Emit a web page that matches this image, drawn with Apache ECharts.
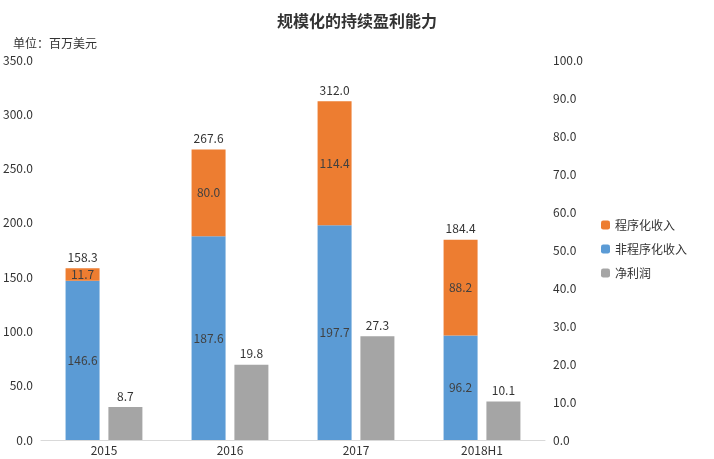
<!DOCTYPE html>
<html><head><meta charset="utf-8">
<script src="https://cdn.jsdelivr.net/npm/echarts@6/dist/echarts.min.js"></script>
<style>html,body{margin:0;padding:0;background:#fff}#c{width:714px;height:459px}</style>
</head><body><div id="c"></div>
<script>
var categories = ['2015','2016','2017','2018H1'];
var nonProgrammatic = [146.6,187.6,197.7,96.2];
var programmatic = [11.7,80.0,114.4,88.2];
var totals = [158.3,267.6,312.0,184.4];
var netProfit = [8.7,19.8,27.3,10.1];
var font = '"Noto Sans CJK SC", "Microsoft YaHei", sans-serif';
var chart = echarts.init(document.getElementById('c'));
var inLabel = {show:true, position:'inside', color:'#404040', fontSize:12, fontFamily:font, formatter:function(p){return p.value.toFixed(1);}};
chart.setOption({
  animation:false,
  textStyle:{fontFamily:font},
  title:[{text:'规模化的持续盈利能力', left:'center', top:8, textStyle:{fontSize:16, fontWeight:'bold', color:'#333', fontFamily:font}},
         {text:'单位：百万美元', left:8, top:32, textStyle:{fontSize:12, fontWeight:'normal', color:'#333', fontFamily:font}}],
  legend:{orient:'vertical', left:596, top:214, itemWidth:9, itemHeight:9, itemGap:12,
    textStyle:{fontSize:12, color:'#333'}, data:['程序化收入','非程序化收入','净利润']},
  grid:{left:40, right:169, top:60, bottom:19},
  xAxis:{type:'category', data:categories, axisTick:{show:false},
    axisLine:{lineStyle:{color:'#d9d9d9'}}, axisLabel:{color:'#333', fontSize:12, margin:4}},
  yAxis:[{type:'value', min:0, max:350, interval:50, splitLine:{show:false}, axisLine:{show:false},
      axisLabel:{color:'#333', fontSize:12, formatter:function(v){return v.toFixed(1);}}},
    {type:'value', min:0, max:100, interval:10, splitLine:{show:false}, axisLine:{show:false},
      axisLabel:{color:'#333', fontSize:12, formatter:function(v){return v.toFixed(1);}}}],
  series:[
    {name:'非程序化收入', type:'bar', stack:'rev', data:nonProgrammatic, barWidth:34, barGap:'26%', itemStyle:{color:'#5B9BD5'}, label:inLabel},
    {name:'程序化收入', type:'bar', stack:'rev', data:programmatic, barWidth:34, itemStyle:{color:'#ED7D31'}, label:inLabel},
    {name:'total', type:'bar', stack:'rev', data:totals.map(function(){return 0;}), barWidth:34, itemStyle:{color:'transparent'},
      label:{show:true, position:'top', color:'#333', fontSize:12, formatter:function(p){return totals[p.dataIndex].toFixed(1);}}},
    {name:'净利润', type:'bar', yAxisIndex:1, data:netProfit, barWidth:34, itemStyle:{color:'#A5A5A5'},
      label:{show:true, position:'top', color:'#333', fontSize:12, formatter:function(p){return p.value.toFixed(1);}}}
  ]
});
</script></body></html>
